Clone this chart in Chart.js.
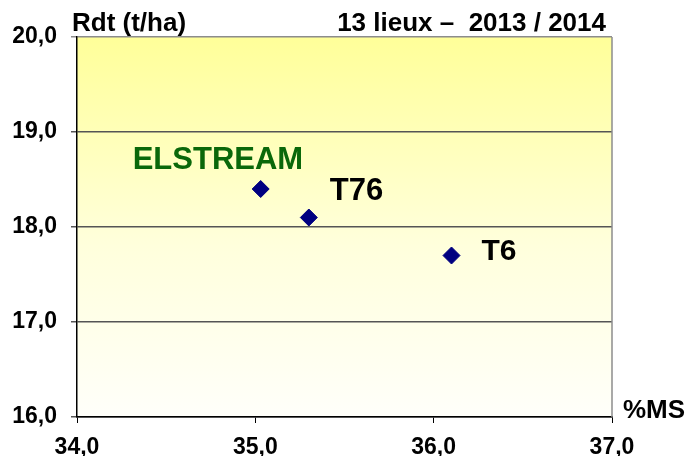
<!DOCTYPE html>
<html>
<head>
<meta charset="utf-8">
<script src="https://cdn.jsdelivr.net/npm/chart.js@4"></script>
<style>
  html, body { margin: 0; padding: 0; background: #ffffff; }
  #wrap { width: 689px; height: 456px; position: relative; }
</style>
</head>
<body>
<div id="wrap"><canvas id="chart"></canvas></div>
<script>
// Varieties and their values (%MS on x, yield t/ha on y)
const varieties = ['ELSTREAM', 'T76', 'T6'];
const dryMatter = [35.03, 35.3, 36.1];
const yieldTha = [18.4, 18.1, 17.7];
const labelColors = ['#0a680a', '#000000', '#000000'];

const xTicks = [34, 35, 36, 37];
const yTicks = [16, 17, 18, 19, 20];

const titleLeft = 'Rdt (t/ha)';
const titleRight = '13 lieux \u2013  2013 / 2014';
const xAxisName = '%MS';

const FONT = "'Liberation Sans', Arial, sans-serif";
const fmt = (v) => Number(v).toFixed(1).replace('.', ',');

// label offsets relative to each point (pixels)
const labelOffsets = [
    { dx: -128, dy: -29, size: 31 },
    { dx: 21, dy: -26, size: 31 },
    { dx: 30, dy: -4, size: 30 }
];

const backgroundPlugin = {
    id: 'bg',
    beforeDraw(chart) {
        const { ctx, chartArea: a } = chart;
        const g = ctx.createLinearGradient(0, a.top, 0, a.bottom);
        g.addColorStop(0, '#ffff99');
        g.addColorStop(0.55, '#ffffdc');
        g.addColorStop(1, '#fffffa');
        ctx.save();
        ctx.fillStyle = g;
        ctx.fillRect(a.left, a.top, a.right - a.left, a.bottom - a.top);
        ctx.restore();
    },
    afterDraw(chart) {
        const { ctx, chartArea: a } = chart;
        ctx.save();
        // right frame line
        ctx.strokeStyle = '#8c8c8c';
        ctx.lineWidth = 1.5;
        ctx.beginPath();
        ctx.moveTo(a.right, a.top);
        ctx.lineTo(a.right, a.bottom);
        ctx.stroke();

        // titles
        ctx.fillStyle = '#000';
        ctx.textBaseline = 'alphabetic';
        ctx.font = 'bold 26px ' + FONT;
        ctx.textAlign = 'left';
        ctx.fillText(titleLeft, 72, 31);
        ctx.textAlign = 'right';
        ctx.fillText(titleRight, 606, 31);
        ctx.textAlign = 'left';
        ctx.fillText(xAxisName, 623, 418);

        // point labels
        const meta = chart.getDatasetMeta(0);
        meta.data.forEach((pt, i) => {
            const o = labelOffsets[i];
            ctx.font = 'bold ' + o.size + 'px ' + FONT;
            ctx.fillStyle = labelColors[i];
            ctx.textBaseline = 'middle';
            ctx.fillText(varieties[i], pt.x + o.dx, pt.y + o.dy);
        });
        ctx.restore();
    }
};

const points = dryMatter.map((x, i) => ({ x: x, y: yieldTha[i] }));

new Chart(document.getElementById('chart'), {
    type: 'scatter',
    data: {
        datasets: [{
            data: points,
            pointStyle: 'rectRot',
            pointRadius: 8.5,
            pointHoverRadius: 8.5,
            backgroundColor: '#000080',
            borderColor: '#000080',
            borderWidth: 1
        }]
    },
    options: {
        responsive: true,
        maintainAspectRatio: false,
        animation: false,
        layout: { padding: { left: 0, right: 77, top: 37, bottom: 0 } },
        plugins: {
            legend: { display: false },
            tooltip: { enabled: false }
        },
        scales: {
            x: {
                type: 'linear',
                min: 34,
                max: 37,
                afterBuildTicks: (s) => { s.ticks = xTicks.map(v => ({ value: v })); },
                afterFit: (s) => { s.height = 39; },
                grid: {
                    drawOnChartArea: false,
                    drawTicks: true,
                    tickLength: 6,
                    color: '#000'
                },
                border: { color: '#000', width: 1.5 },
                ticks: {
                    padding: 11,
                    color: '#000',
                    font: { family: FONT, size: 23, weight: 'bold' },
                    callback: fmt
                }
            },
            y: {
                type: 'linear',
                min: 16,
                max: 20,
                afterBuildTicks: (s) => { s.ticks = yTicks.map(v => ({ value: v })); },
                afterFit: (s) => { s.width = 77; },
                grid: {
                    drawTicks: true,
                    tickLength: 6,
                    lineWidth: 1.5,
                    color: (c) => (c.tick && c.tick.value === 20) ? '#8c8c8c' : '#555555'
                },
                border: { color: '#000', width: 1.5 },
                ticks: {
                    padding: 14,
                    color: '#000',
                    font: { family: FONT, size: 23, weight: 'bold' },
                    callback: fmt
                }
            }
        }
    },
    plugins: [backgroundPlugin]
});
</script>
</body>
</html>
